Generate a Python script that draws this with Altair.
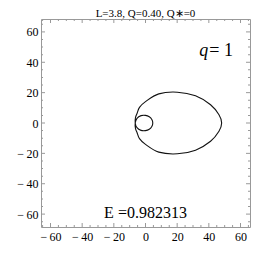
import altair as alt
import pandas as pd

TITLE = "L=3.8, Q=0.40, Q\u2217=0"
Q_NAME = "q"
Q_VALUE = "= 1"
E_LABEL = "E =0.982313"

# orbit (closed path: big leaf + one whirl)
orbit_x = [48.1, 46.4, 41.1, 31.6, 20.1, 8.4, 0.0, -3.8, -5.3, -6.3, -6.5,
           -5.37, -2.8, 0.0, 2.38, 4.0, 4.6, 4.0, 2.38, 0.0, -2.8, -5.37,
           -6.5, -6.3, -5.3, -3.8, 0.0, 8.4, 20.1, 31.6, 41.1, 46.4]
orbit_y = [0.0, 5.4, 12.0, 17.9, 20.3, 19.2, 14.1, 10.3, 6.4, 3.65, 0.0,
           -3.1, -4.85, -5.0, -4.11, -2.31, 0.0, 2.31, 4.11, 5.0, 4.85, 3.1,
           0.0, -3.65, -6.4, -10.3, -14.1, -19.2, -20.3, -17.9, -12.0, -5.4]

major_ticks = [-60, -40, -20, 0, 20, 40, 60]
minor_ticks = [-65, -55, -50, -45, -35, -30, -25, -15, -10, -5,
               5, 10, 15, 25, 30, 35, 45, 50, 55, 65]

XDOM = [-66, 66]
YDOM = [-68.5, 68.5]
W, H = 209, 208
FRAME = "#999999"
SERIF = "Liberation Serif"

xs = alt.Scale(domain=XDOM, nice=False, zero=False)
ys = alt.Scale(domain=YDOM, nice=False, zero=False)

label_expr = "datum.value < 0 ? '\u2212\u2009' + abs(datum.value) : '' + datum.value"

x_axis = alt.Axis(values=major_ticks, labelExpr=label_expr, grid=False, ticks=False,
                  domain=False, labelPadding=4, labelOverlap=False, title=None)
y_axis = alt.Axis(values=major_ticks, labelExpr=label_expr, grid=False, ticks=False,
                  domain=False, labelPadding=3, labelOverlap=False, title=None)


def xd(v):
    return alt.XDatum(v, scale=xs, axis=x_axis)


def yd(v):
    return alt.YDatum(v, scale=ys, axis=y_axis)


orbit = pd.DataFrame({"i": range(len(orbit_x)), "x": orbit_x, "y": orbit_y})

line = alt.Chart(orbit).mark_line(
    interpolate="cardinal-closed", color="#111111", strokeWidth=1.1
).encode(
    x=alt.X("x:Q", scale=xs, axis=x_axis),
    y=alt.Y("y:Q", scale=ys, axis=y_axis),
    order="i:Q",
)

layers = [line]
for vals, size in ((major_ticks, 8), (minor_ticks, 4)):
    df = pd.DataFrame({"v": vals})
    for edge in (YDOM[0], YDOM[1]):
        layers.append(
            alt.Chart(df).mark_tick(orient="vertical", size=size, thickness=1,
                                    color=FRAME, clip=True, opacity=1)
            .encode(x=alt.X("v:Q", scale=xs, axis=x_axis), y=yd(edge))
        )
    for edge in (XDOM[0], XDOM[1]):
        layers.append(
            alt.Chart(df).mark_tick(orient="horizontal", size=size, thickness=1,
                                    color=FRAME, clip=True, opacity=1)
            .encode(y=alt.Y("v:Q", scale=ys, axis=y_axis), x=xd(edge))
        )

q_df = pd.DataFrame({"a": [Q_NAME], "b": [Q_VALUE]})
q_name = alt.Chart(q_df).mark_text(
    font=SERIF, fontSize=18, fontStyle="italic", align="right", baseline="alphabetic",
    color="black", dx=-1
).encode(x=xd(40.3), y=yd(44.0), text="a:N")
q_val = alt.Chart(q_df).mark_text(
    font=SERIF, fontSize=18, align="left", baseline="alphabetic", color="black"
).encode(x=xd(40.3), y=yd(44.0), text="b:N")

e_df = pd.DataFrame({"t": [E_LABEL]})
e_text = alt.Chart(e_df).mark_text(
    font=SERIF, fontSize=16, align="center", baseline="alphabetic", color="black"
).encode(x=xd(0.0), y=yd(-62.3), text="t:N")

layers += [q_name, q_val, e_text]

chart = alt.layer(*layers).properties(
    width=W, height=H,
    title=alt.TitleParams(TITLE, font=SERIF, fontSize=11, fontWeight="normal",
                          color="black", anchor="middle", offset=0),
    autosize=alt.AutoSizeParams(type="none"),
    padding={"left": 33, "top": 11, "right": 8, "bottom": 20},
    background="white",
).configure_view(
    stroke=FRAME, strokeWidth=1
).configure_axis(
    labelFont=SERIF, labelFontSize=12, labelColor="#000000"
)

chart.save("out.html", embed_options={"renderer": "svg", "actions": False})
